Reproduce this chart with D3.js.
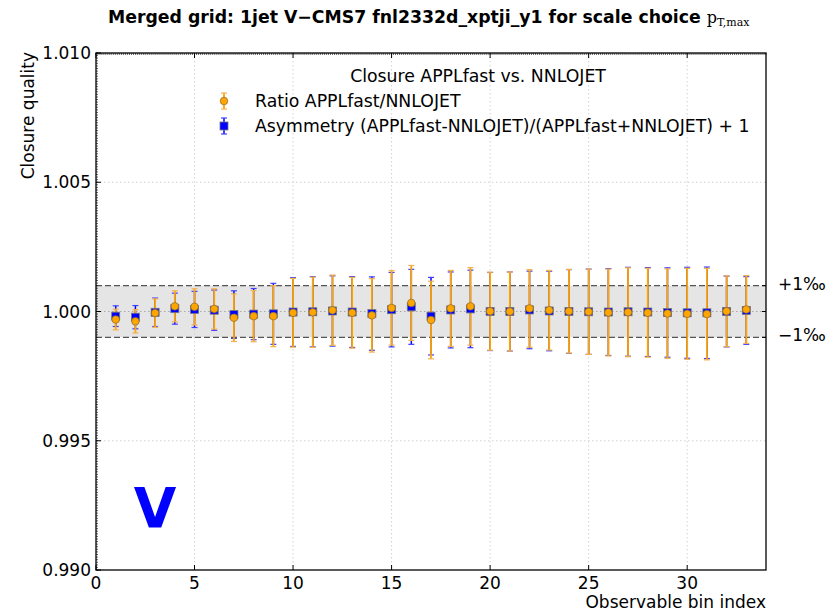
<!DOCTYPE html>
<html>
<head>
<meta charset="utf-8">
<script src="https://cdn.jsdelivr.net/npm/d3@7"></script>
<style>
  html, body { margin: 0; padding: 0; background: #fff; }
  svg { display: block; font-family: "DejaVu Sans", sans-serif; }
</style>
</head>
<body>
<svg id="chart" width="834" height="611"></svg>
<script>
// Observable bins 1..33
const bins = d3.range(1, 34);

// Ratio APPLfast/NNLOJET per bin
const ratio = [0.99969, 0.99962, 0.99994, 1.00020, 1.00018, 1.00010, 0.99976, 0.99982, 0.99982, 0.99995,
               0.99997, 1.00005, 0.99995, 0.99985, 1.00014, 1.00033, 0.99967, 1.00012, 1.00020, 1.00001,
               1.00000, 1.00012, 1.00005, 1.00001, 0.99999, 0.99996, 0.99997, 0.99995, 0.99992, 0.99991,
               0.99990, 1.00001, 1.00008];

// Asymmetry (A-N)/(A+N) + 1 per bin
const asym = [0.99982, 0.99978, 0.99997, 1.00011, 1.00008, 1.00005, 0.99988, 0.99990, 0.99991, 0.99998,
              0.99999, 1.00002, 0.99998, 0.99992, 1.00007, 1.00018, 0.99982, 1.00006, 1.00010, 1.00000,
              1.00000, 1.00006, 1.00002, 1.00000, 0.99999, 0.99998, 0.99999, 0.99998, 0.99996, 0.99995,
              0.99995, 1.00000, 1.00004];

// Statistical uncertainty per bin
const errs = [0.00040, 0.00045, 0.00055, 0.00060, 0.00070, 0.00078, 0.00092, 0.00099, 0.00118, 0.00133,
              0.00136, 0.00136, 0.00137, 0.00142, 0.00144, 0.00145, 0.00150, 0.00147, 0.00150, 0.00151,
              0.00153, 0.00150, 0.00154, 0.00162, 0.00165, 0.00168, 0.00172, 0.00172, 0.00173, 0.00176,
              0.00177, 0.00137, 0.00131];

const xTicks = [0, 5, 10, 15, 20, 25, 30];
const yTicks = [0.990, 0.995, 1.000, 1.005, 1.010];
const bandLo = 0.999, bandHi = 1.001;

const svg = d3.select("#chart");
const M = { left: 96, right: 766, top: 53, bottom: 570 };

const x = d3.scaleLinear().domain([0, 34]).range([M.left, M.right]);
const y = d3.scaleLinear().domain([0.990, 1.010]).range([M.bottom, M.top]);

// Tolerance band
svg.append("rect")
  .attr("x", M.left).attr("width", M.right - M.left)
  .attr("y", y(bandHi)).attr("height", y(bandLo) - y(bandHi))
  .attr("fill", "#e5e5e5");

// Grid
const grid = svg.append("g").attr("stroke", "#c8c8c8").attr("stroke-width", 0.8)
  .attr("stroke-dasharray", "1.5,2.5");
xTicks.filter(v => v > 0).forEach(v => {
  grid.append("line").attr("x1", x(v)).attr("x2", x(v)).attr("y1", M.top).attr("y2", M.bottom);
});
yTicks.filter(v => v > 0.990 && v < 1.010).forEach(v => {
  grid.append("line").attr("x1", M.left).attr("x2", M.right).attr("y1", y(v)).attr("y2", y(v))
    .attr("stroke", v === 1.000 ? "#9a9a9a" : "#c8c8c8");
});

// Band edges
[bandLo, bandHi].forEach(v => {
  svg.append("line").attr("x1", M.left).attr("x2", M.right).attr("y1", y(v)).attr("y2", y(v))
    .attr("stroke", "#555").attr("stroke-width", 1.2).attr("stroke-dasharray", "6,3");
});

// Asymmetry error bars
const gA = svg.append("g");
bins.forEach((b, i) => {
  const cx = x(b), t = y(asym[i] + errs[i]), bt = y(asym[i] - errs[i]);
  gA.append("line").attr("x1", cx).attr("x2", cx).attr("y1", t).attr("y2", bt)
    .attr("stroke", "#0000ff").attr("stroke-width", 1.5);
  [t, bt].forEach(yy => gA.append("line").attr("x1", cx - 3).attr("x2", cx + 3)
    .attr("y1", yy).attr("y2", yy).attr("stroke", "#4040ff").attr("stroke-width", 1.2));
});

// Ratio error bars
const gR = svg.append("g");
bins.forEach((b, i) => {
  const cx = x(b), t = y(ratio[i] + errs[i]), bt = y(ratio[i] - errs[i]);
  gR.append("line").attr("x1", cx).attr("x2", cx).attr("y1", t).attr("y2", bt)
    .attr("stroke", "#ffa500").attr("stroke-width", 1.8);
  [t, bt].forEach(yy => gR.append("line").attr("x1", cx - 3).attr("x2", cx + 3)
    .attr("y1", yy).attr("y2", yy).attr("stroke", "#f5b050").attr("stroke-width", 1.2));
});

// Asymmetry squares
svg.append("g").selectAll("rect").data(bins).join("rect")
  .attr("x", d => x(d) - 4).attr("y", (d, i) => y(asym[i]) - 4)
  .attr("width", 8).attr("height", 8)
  .attr("fill", "#0000ff").attr("stroke", "#777").attr("stroke-width", 0.8);

// Ratio circles
svg.append("g").selectAll("circle").data(bins).join("circle")
  .attr("cx", d => x(d)).attr("cy", (d, i) => y(ratio[i])).attr("r", 3.8)
  .attr("fill", "#ffa500").attr("stroke", "#8a6a30").attr("stroke-width", 0.7);

// Frame
svg.append("rect").attr("x", M.left).attr("y", M.top)
  .attr("width", M.right - M.left).attr("height", M.bottom - M.top)
  .attr("fill", "none").attr("stroke", "#000").attr("stroke-width", 1.3);

// Minor ticks (inward) on left and top
const minor = svg.append("g").attr("stroke", "#000").attr("stroke-width", 0.6);
d3.range(0.990, 1.01001, 0.0001).forEach(v => {
  minor.append("line").attr("x1", M.left).attr("x2", M.left + 2).attr("y1", y(v)).attr("y2", y(v));
});
d3.range(0, 34.001, 0.1).forEach(v => {
  minor.append("line").attr("x1", x(v)).attr("x2", x(v)).attr("y1", M.top).attr("y2", M.top + 2);
});

// Major ticks
const major = svg.append("g").attr("stroke", "#000").attr("stroke-width", 1);
yTicks.forEach(v => {
  major.append("line").attr("x1", M.left).attr("x2", M.left + 5).attr("y1", y(v)).attr("y2", y(v));
});
xTicks.forEach(v => {
  major.append("line").attr("x1", x(v)).attr("x2", x(v)).attr("y1", M.bottom).attr("y2", M.bottom - 5);
  major.append("line").attr("x1", x(v)).attr("x2", x(v)).attr("y1", M.top).attr("y2", M.top + 5);
});
// Right-hand ticks at the band edges and centre
[bandLo, 1.000, bandHi].forEach(v => {
  major.append("line").attr("x1", M.right).attr("x2", M.right - 4).attr("y1", y(v)).attr("y2", y(v));
});

// Tick labels
const fmt = d3.format(".3f");
svg.append("g").selectAll("text").data(yTicks).join("text")
  .attr("x", M.left - 5).attr("y", d => y(d) + 6)
  .attr("text-anchor", "end").attr("font-size", 17).text(d => fmt(d));
svg.append("g").selectAll("text").data(xTicks).join("text")
  .attr("x", d => x(d)).attr("y", M.bottom + 19)
  .attr("text-anchor", "middle").attr("font-size", 17).text(d => d);

// Band labels
svg.append("text").attr("x", 778).attr("y", y(bandHi) + 4).attr("font-size", 17).text("+1‰");
svg.append("text").attr("x", 778).attr("y", y(bandLo) + 4).attr("font-size", 17).text("−1‰");

// Axis titles
svg.append("text").attr("x", M.right).attr("y", 608).attr("text-anchor", "end")
  .attr("font-size", 17).text("Observable bin index");
svg.append("text").attr("transform", `translate(34,52) rotate(-90)`).attr("text-anchor", "end")
  .attr("font-size", 17).text("Closure quality");

// Title
const title = svg.append("text").attr("x", 108).attr("y", 23)
  .attr("font-size", 17.3).attr("font-weight", "bold");
title.append("tspan").text("Merged grid: 1jet V−CMS7 fnl2332d_xptji_y1 for scale choice ");
title.append("tspan").attr("font-family", "'DejaVu Serif', serif").attr("font-weight", "normal")
  .attr("font-size", 16).text("p");
title.append("tspan").attr("font-family", "'DejaVu Serif', serif").attr("font-weight", "normal")
  .attr("font-size", 11).attr("dy", 3).text("T,max");

// Legend
const leg = svg.append("g").attr("font-size", 17.3);
leg.append("text").attr("x", 478).attr("y", 82).attr("text-anchor", "middle")
  .text("Closure APPLfast vs. NNLOJET");
// ratio entry
leg.append("line").attr("x1", 224).attr("x2", 224).attr("y1", 93).attr("y2", 109)
  .attr("stroke", "#ffa500").attr("stroke-width", 1.8);
[93, 109].forEach(yy => leg.append("line").attr("x1", 221).attr("x2", 227).attr("y1", yy).attr("y2", yy)
  .attr("stroke", "#f5b050").attr("stroke-width", 1.2));
leg.append("circle").attr("cx", 224).attr("cy", 101).attr("r", 3.8)
  .attr("fill", "#ffa500").attr("stroke", "#8a6a30").attr("stroke-width", 0.7);
leg.append("text").attr("x", 255).attr("y", 107).text("Ratio APPLfast/NNLOJET");
// asymmetry entry
leg.append("line").attr("x1", 224).attr("x2", 224).attr("y1", 118).attr("y2", 134)
  .attr("stroke", "#0000ff").attr("stroke-width", 1.5);
[118, 134].forEach(yy => leg.append("line").attr("x1", 221).attr("x2", 227).attr("y1", yy).attr("y2", yy)
  .attr("stroke", "#4040ff").attr("stroke-width", 1.2));
leg.append("rect").attr("x", 220).attr("y", 122).attr("width", 8).attr("height", 8)
  .attr("fill", "#0000ff").attr("stroke", "#777").attr("stroke-width", 0.8);
leg.append("text").attr("x", 255).attr("y", 132)
  .text("Asymmetry (APPLfast-NNLOJET)/(APPLfast+NNLOJET) + 1");

// Big marker letter
svg.append("text").attr("x", 155).attr("y", 527).attr("text-anchor", "middle")
  .attr("font-size", 55).attr("font-weight", "bold").attr("fill", "#0000ff").text("V");
</script>
</body>
</html>
